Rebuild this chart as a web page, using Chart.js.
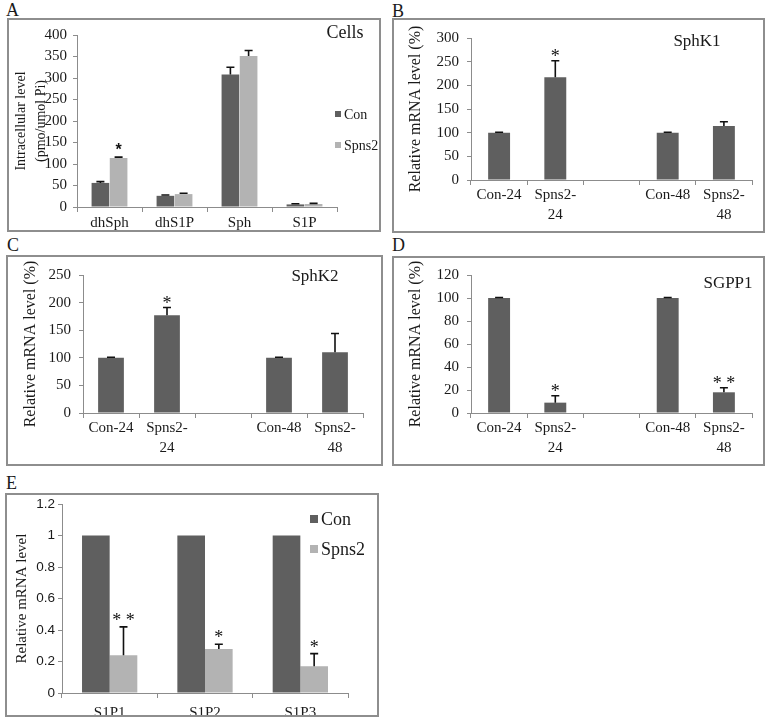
<!DOCTYPE html>
<html>
<head>
<meta charset="utf-8">
<script src="https://cdn.jsdelivr.net/npm/chart.js@4.4.1/dist/chart.umd.min.js"></script>
<style>
body { margin: 0; background: #fff; width: 773px; height: 721px; position: relative; overflow: hidden; font-family: 'Liberation Serif', serif; }
.box { position: absolute; box-sizing: border-box; border: 2px solid #8e8e8e; pointer-events: none; }
.letter { position: absolute; font-size: 18px; line-height: 1; color: #1a1a1a; font-family: 'Liberation Serif', serif; }
canvas { position: absolute; }
</style>
</head>
<body>
<div class="letter" style="left:6px;top:1px">A</div>
<div class="letter" style="left:392px;top:2px">B</div>
<div class="letter" style="left:7px;top:236px">C</div>
<div class="letter" style="left:392px;top:236px">D</div>
<div class="letter" style="left:6px;top:474px">E</div>

<canvas id="chartA" width="374" height="214" style="left:7px;top:18px"></canvas>
<canvas id="chartB" width="373" height="215" style="left:392px;top:18px"></canvas>
<canvas id="chartC" width="377" height="211" style="left:6px;top:255px"></canvas>
<canvas id="chartD" width="373" height="211" style="left:392px;top:255px"></canvas>
<canvas id="chartE" width="374" height="224" style="left:5px;top:493px"></canvas>

<div class="box" style="left:7px;top:18px;width:374px;height:214px"></div>
<div class="box" style="left:392px;top:18px;width:373px;height:215px"></div>
<div class="box" style="left:6px;top:255px;width:377px;height:211px"></div>
<div class="box" style="left:392px;top:256px;width:373px;height:210px"></div>
<div class="box" style="left:5px;top:493px;width:374px;height:224px"></div>

<script>
// A - cells
const cellCats = ['dhSph', 'dhS1P', 'Sph', 'S1P'];
const cellCon = [56, 26, 308, 6];
const cellConErr = [3, 2, 17, 1.5];
const cellSpns2 = [114, 30, 351, 7];
const cellSpns2Err = [2, 2, 13, 1.5];
const cellStars = ['*', '', '', ''];

// B, C, D - time course
const timeCats = [['Con-24'], ['Spns2-', '24'], '', ['Con-48'], ['Spns2-', '48']];
const sphk1 = [100, 217, null, 100, 114];
const sphk1Err = [1, 35, null, 1, 9];
const sphk1Stars = ['', '*', '', '', ''];
const sphk2 = [100, 177, null, 100, 110];
const sphk2Err = [1, 14, null, 1, 34];
const sphk2Stars = ['', '*', '', '', ''];
const sgpp1 = [100, 9, null, 100, 18];
const sgpp1Err = [0.5, 6, null, 0.5, 4];
const sgpp1Stars = ['', '*', '', '', '* *'];

// E - receptors
const recCats = ['S1P1', 'S1P2', 'S1P3'];
const recCon = [1, 1, 1];
const recSpns2 = [0.24, 0.28, 0.17];
const recSpns2Err = [0.18, 0.03, 0.08];
const recStars = ['* *', '*', '*'];

const DARK = '#5f5f5f';
const LIGHT = '#b3b3b3';
const AXIS = '#8c8c8c';
const TEXT = '#1a1a1a';
const SERIF = "'Liberation Serif', serif";
const SANS = "'Liberation Sans', sans-serif";

const errorBars = {
    id: 'errorBars',
    afterDatasetsDraw(chart, args, opts) {
        const ctx = chart.ctx;
        const y = chart.scales.y;
        chart.data.datasets.forEach((ds, di) => {
            if (!ds.err) return;
            const meta = chart.getDatasetMeta(di);
            meta.data.forEach((bar, i) => {
                const v = ds.data[i], e = ds.err[i];
                if (v == null || e == null) return;
                const top = y.getPixelForValue(v + e);
                ctx.save();
                ctx.strokeStyle = '#111';
                ctx.lineWidth = 1.6;
                ctx.beginPath();
                ctx.moveTo(bar.x, bar.y);
                ctx.lineTo(bar.x, top);
                ctx.moveTo(bar.x - 4, top);
                ctx.lineTo(bar.x + 4, top);
                ctx.stroke();
                if (ds.stars && ds.stars[i]) {
                    ctx.fillStyle = '#111';
                    ctx.font = opts.starFont;
                    ctx.textAlign = 'center';
                    ctx.textBaseline = 'alphabetic';
                    ctx.fillText(ds.stars[i], bar.x, top + opts.starShift);
                }
                ctx.restore();
            });
        });
    }
};

const panelText = {
    id: 'panelText',
    afterDraw(chart, args, opts) {
        const ctx = chart.ctx;
        ctx.save();
        ctx.fillStyle = TEXT;
        ctx.textBaseline = 'middle';
        if (opts.title) {
            ctx.font = opts.titleFont;
            ctx.textAlign = 'center';
            ctx.fillText(opts.title, opts.titlePos[0], opts.titlePos[1]);
        }
        (opts.legend || []).forEach((pos, i) => {
            const ds = chart.data.datasets[i];
            const s = opts.box;
            ctx.fillStyle = ds.backgroundColor;
            ctx.fillRect(pos[0] - s / 2, pos[1] - s / 2, s, s);
            ctx.fillStyle = TEXT;
            ctx.font = opts.legendFont;
            ctx.textAlign = 'left';
            ctx.fillText(ds.label, pos[0] + s / 2 + 3, pos[1] + 1);
        });
        ctx.restore();
    }
};

function makeChart(id, cfg) {
    return new Chart(document.getElementById(id), {
        type: 'bar',
        data: { labels: cfg.labels, datasets: cfg.datasets },
        options: {
            responsive: false,
            animation: false,
            events: [],
            layout: { padding: cfg.padding },
            plugins: {
                legend: { display: false },
                tooltip: { enabled: false },
                errorBars: { starFont: cfg.starFont, starShift: cfg.starShift },
                panelText: cfg.text
            },
            scales: {
                x: {
                    grid: { drawOnChartArea: false, tickLength: 5, color: AXIS },
                    border: { color: AXIS, width: 1 },
                    ticks: {
                        color: TEXT, autoSkip: false, maxRotation: 0,
                        padding: cfg.xPad,
                        font: { family: SERIF, size: 15, lineHeight: 1.33 }
                    },
                    afterFit: (s) => { s.height = cfg.xHeight; }
                },
                y: {
                    min: 0, max: cfg.yMax,
                    grid: { drawOnChartArea: false, tickLength: 4, color: AXIS },
                    border: { color: AXIS, width: 1 },
                    ticks: {
                        stepSize: cfg.yStep, color: TEXT, padding: cfg.yPad,
                        font: cfg.yFont,
                        callback: (v) => String(+v.toFixed(1))
                    },
                    title: {
                        display: true, text: cfg.yTitle, color: TEXT,
                        font: cfg.yTitleFont, padding: { top: cfg.yTitlePad, bottom: 0 }
                    },
                    afterFit: (s) => { s.width = cfg.yWidth; }
                }
            }
        },
        plugins: [errorBars, panelText]
    });
}

function single(values, errs, stars, pct) {
    return [{
        label: '', data: values, err: errs, stars: stars,
        backgroundColor: DARK, categoryPercentage: pct, barPercentage: 1
    }];
}

makeChart('chartA', {
    labels: cellCats,
    datasets: [
        { label: 'Con', data: cellCon, err: cellConErr, backgroundColor: DARK, categoryPercentage: 0.56, barPercentage: 0.97 },
        { label: 'Spns2', data: cellSpns2, err: cellSpns2Err, stars: cellStars, backgroundColor: LIGHT, categoryPercentage: 0.56, barPercentage: 0.97 }
    ],
    padding: { left: 0, top: 17, right: 44, bottom: 0 },
    yWidth: 70, xHeight: 25, xPad: 1, yPad: 6,
    yMax: 400, yStep: 50,
    yFont: { family: SERIF, size: 15 },
    yTitle: ['Intracellular level', '(pmo/umol Pi)'],
    yTitleFont: { family: SERIF, size: 14, lineHeight: 1.45 },
    yTitlePad: 4,
    starFont: 'bold 16px ' + SANS, starShift: -2,
    text: { title: 'Cells', titleFont: '18px ' + SERIF, titlePos: [338, 15],
            legend: [[331, 96], [331, 127]], box: 6, legendFont: '14px ' + SERIF }
});

const timeCommon = {
    labels: timeCats,
    xHeight: 53, xPad: 0, yPad: 8,
    yFont: { family: SERIF, size: 15 },
    yTitle: 'Relative mRNA level (%)',
    yTitleFont: { family: SERIF, size: 16, lineHeight: 1.2 },
    starFont: '18px ' + SERIF, starShift: 1
};

makeChart('chartB', Object.assign({}, timeCommon, {
    datasets: single(sphk1, sphk1Err, sphk1Stars, 0.39),
    padding: { left: 0, top: 20, right: 13, bottom: 0 },
    yWidth: 79, yMax: 300, yStep: 50, yTitlePad: 14,
    text: { title: 'SphK1', titleFont: '17px ' + SERIF, titlePos: [305, 24] }
}));

makeChart('chartC', Object.assign({}, timeCommon, {
    datasets: single(sphk2, sphk2Err, sphk2Stars, 0.46),
    padding: { left: 0, top: 20, right: 20, bottom: 0 },
    yWidth: 77, yMax: 250, yStep: 50, yTitlePad: 15,
    text: { title: 'SphK2', titleFont: '17px ' + SERIF, titlePos: [309, 22] }
}));

makeChart('chartD', Object.assign({}, timeCommon, {
    datasets: single(sgpp1, sgpp1Err, sgpp1Stars, 0.39),
    padding: { left: 0, top: 20, right: 13, bottom: 0 },
    yWidth: 79, yMax: 120, yStep: 20, yTitlePad: 14,
    text: { title: 'SGPP1', titleFont: '17px ' + SERIF, titlePos: [336, 29] }
}));

makeChart('chartE', {
    labels: recCats,
    datasets: [
        { label: 'Con', data: recCon, backgroundColor: DARK, categoryPercentage: 0.58, barPercentage: 1 },
        { label: 'Spns2', data: recSpns2, err: recSpns2Err, stars: recStars, backgroundColor: LIGHT, categoryPercentage: 0.58, barPercentage: 1 }
    ],
    padding: { left: 0, top: 10, right: 31, bottom: 0 },
    yWidth: 57, xHeight: 24, xPad: 5, yPad: 3,
    yMax: 1.2, yStep: 0.2,
    yFont: { family: SANS, size: 13.5 },
    yTitle: 'Relative mRNA level',
    yTitleFont: { family: SERIF, size: 15, lineHeight: 1.2 },
    yTitlePad: 8,
    starFont: '18px ' + SERIF, starShift: -1,
    text: { legend: [[309, 26], [309, 56]], box: 8, legendFont: '18px ' + SERIF }
});
</script>
</body>
</html>
